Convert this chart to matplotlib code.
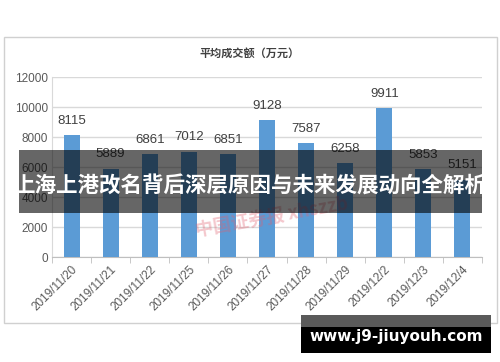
import matplotlib
matplotlib.use("Agg")
import matplotlib.pyplot as plt
from matplotlib.patches import Rectangle

categories = ["2019/11/20", "2019/11/21", "2019/11/22", "2019/11/25", "2019/11/26",
              "2019/11/27", "2019/11/28", "2019/11/29", "2019/12/2", "2019/12/3", "2019/12/4"]
values = [8115, 5889, 6861, 7012, 6851, 9128, 7587, 6258, 9911, 5853, 5151]
yticks = [0, 2000, 4000, 6000, 8000, 10000, 12000]
title = "平均成交额（万元）"
banner = "上海上港改名背后深层原因与未来发展动向全解析"
site = "www.j9-jiuyouh.com"
mark = "中国证券报 xhszzb"

plt.rcParams['font.family'] = ['Liberation Sans', 'Noto Sans CJK SC', 'DejaVu Sans']

W, H = 500, 362
fig = plt.figure(figsize=(5, 3.62), dpi=100)

def fx(px): return px / W
def fy(py): return 1 - py / H

# chart frame
fig.patches.append(Rectangle((fx(4), fy(323)), fx(497) - fx(4), fy(37) - fy(323),
                             transform=fig.transFigure, fill=False, edgecolor="#d0d0d0", lw=1))

ax = fig.add_axes([fx(52), fy(257), fx(482) - fx(52), fy(77) - fy(257)])
x = list(range(len(categories)))
ax.bar(x, values, width=0.41, color="#5B9BD5", zorder=3)
for xi, v in zip(x, values):
    ax.annotate(str(v), (xi, v), xytext=(0, 6), textcoords="offset points",
                ha="center", va="bottom", fontsize=9.5, color="#404040", zorder=4)
ax.set_ylim(0, 12000)
ax.set_xlim(-0.5, len(categories) - 0.5)
ax.set_yticks(yticks)
ax.set_yticklabels([str(t) for t in yticks], fontsize=8.5, color="#595959")
ax.yaxis.grid(True, color="#d9d9d9", lw=1, zorder=0)
ax.set_xticks(x)
ax.set_xticklabels(categories, rotation=45, ha="right", rotation_mode="anchor",
                   fontsize=8.5, color="#595959")
ax.tick_params(axis="x", length=0, pad=5)
ax.tick_params(axis="y", length=0, pad=3)
ax.set_xticks([i - 0.5 for i in range(len(categories) + 1)], minor=True)
ax.tick_params(axis="x", which="minor", length=4, color="#bfbfbf")
for s in ["top", "right"]:
    ax.spines[s].set_visible(False)
ax.spines["left"].set_color("#d9d9d9")
ax.spines["bottom"].set_color("#bfbfbf")

fig.text(0.5, fy(53), title, ha="center", va="center", fontsize=8,
         fontweight="bold", color="#404040", family=['Noto Sans CJK SC', 'DejaVu Sans'])

# faint red watermark
fig.text(fx(272), fy(218), mark, ha="center", va="center", fontsize=13, fontweight="bold",
         color="#e06070", alpha=0.35, rotation=10, family=['Noto Sans CJK SC', 'DejaVu Sans'])

# banner
fig.patches.append(Rectangle((fx(19), fy(213)), fx(482) - fx(19), fy(150) - fy(213),
                             transform=fig.transFigure, facecolor="black", alpha=0.6,
                             edgecolor="none", zorder=10))
fig.text(fx(250), fy(185), banner, ha="center", va="center", fontsize=15.5,
         fontweight="bold", color="white", zorder=11,
         family=['Noto Sans CJK SC', 'DejaVu Sans'])

# site watermark
fig.patches.append(Rectangle((fx(301), fy(327)), fx(491) - fx(301), fy(315) - fy(327),
                             transform=fig.transFigure, facecolor="#5a5a5a",
                             edgecolor="none", zorder=10))
fig.patches.append(Rectangle((fx(301), fy(353)), fx(491) - fx(301), fy(327) - fy(353),
                             transform=fig.transFigure, facecolor="black",
                             edgecolor="none", zorder=10))
fig.text(fx(396), fy(336), site, ha="center", va="center", fontsize=11,
         fontweight="bold", color="white", zorder=11, family=['DejaVu Sans'])

fig.savefig("out.png", dpi=100)
